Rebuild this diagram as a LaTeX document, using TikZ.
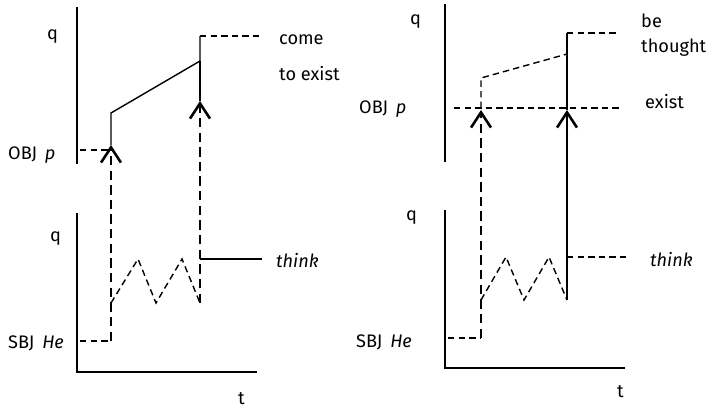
\documentclass[tikz,border=0pt]{standalone}
\usepackage{fontspec}
\setmainfont{Fira Sans}
\usetikzlibrary{arrows.meta}
\tikzset{
  axis/.style={line width=1.6pt},
  trace/.style={line width=1.2pt},
  tracedash/.style={line width=1.2pt, dash pattern=on 5.5pt off 3.5pt},
  cause/.style={line width=2.4pt, dash pattern=on 8pt off 4.5pt, -{Straight Barb[length=13pt,width=17pt,line width=2.2pt]}},
  causefull/.style={line width=2pt, -{Straight Barb[length=13pt,width=17pt,line width=2.2pt]}},
  lbl/.style={anchor=base west, inner sep=0pt, font=\fontsize{15.5}{17}\selectfont}
}

\begin{document}
\begin{tikzpicture}[x=0.3mm,y=-0.3mm]
  \useasboundingbox (0,0) rectangle (716,410);

  % left panel: come to exist
  \coordinate (lTop) at (77,7);
  \coordinate (lMid) at (77,164);
  \coordinate (lBot) at (77,213);
  \coordinate (lOrig) at (77,372);
  \coordinate (lEnd) at (257,372);
  \draw[axis] (lTop) -- (lMid);
  \draw[axis] (lBot) -- (lOrig) -- (lEnd);

  \node[lbl] (lq1) at (47,39) {q};
  \node[lbl] (lq2) at (50,241) {q};
  \node[lbl] (lt) at (238,404) {t};
  \node[lbl] (lobj) at (8,159) {OBJ\, \textit{p}};
  \node[lbl] (lsbj) at (8,348) {SBJ\, \textit{He}};
  \node[lbl] (lcome) at (279,44) {come};
  \node[lbl] (lexist) at (279,80) {to exist};
  \node[lbl] (lthink) at (276,267) {\textit{think}};

  \coordinate (lp0) at (80,150);
  \coordinate (lA) at (111,145);
  \coordinate (lA1) at (111,113);
  \coordinate (lB) at (200,101);
  \coordinate (lB1) at (200,61);
  \coordinate (lB2) at (200,36);
  \coordinate (lB3) at (262,36);
  \coordinate (lh0) at (80,341);
  \coordinate (lh1) at (111,341);
  \coordinate (lz0) at (111,303);
  \coordinate (lz1) at (138,259);
  \coordinate (lz2) at (156,303);
  \coordinate (lz3) at (182,259);
  \coordinate (lz4) at (200,303);
  \coordinate (lk0) at (200,259);
  \coordinate (lk1) at (262,259);

  \draw[tracedash] (lp0) -- (lA |- lp0);
  \draw[trace] (lA) -- (lA1) -- (lB1) -- (lB2);
  \draw[trace] (lB) -- (lB1);
  \draw[tracedash] (lB2) -- (lB3);
  \draw[tracedash] (lh0) -- (lh1);
  \draw[cause] (lh1) -- (lA);
  \draw[cause] (lz4) -- (lB);
  \draw[tracedash] (lz0) -- (lz1) -- (lz2) -- (lz3) -- (lz4);
  \draw[trace] (lk0) -- (lk1);

  % right panel: be thought
  \coordinate (rTop) at (445,4);
  \coordinate (rMid) at (445,162);
  \coordinate (rBot) at (445,210);
  \coordinate (rOrig) at (445,368);
  \coordinate (rEnd) at (625,368);
  \draw[axis] (rTop) -- (rMid);
  \draw[axis] (rBot) -- (rOrig) -- (rEnd);

  \node[lbl] (rq1) at (410,24) {q};
  \node[lbl] (rq2) at (406,220) {q};
  \node[lbl] (rt) at (617,397) {t};
  \node[lbl] (robj) at (359,113) {OBJ\, \textit{p}};
  \node[lbl] (rsbj) at (356,347) {SBJ\, \textit{He}};
  \node[lbl] (rbe) at (641,27) {be};
  \node[lbl] (rthought) at (641,52) {thought};
  \node[lbl] (rexist) at (645,108) {exist};
  \node[lbl] (rthink) at (650,266) {\textit{think}};

  \coordinate (rp0) at (454,108);
  \coordinate (rp1) at (621,108);
  \coordinate (rA) at (481,110);
  \coordinate (rA1) at (481,78);
  \coordinate (rB) at (567,110);
  \coordinate (rB1) at (567,54);
  \coordinate (rB2) at (567,33);
  \coordinate (rB3) at (618,33);
  \coordinate (rh0) at (448,338);
  \coordinate (rh1) at (481,338);
  \coordinate (rz0) at (481,300);
  \coordinate (rz1) at (506,257);
  \coordinate (rz2) at (524,300);
  \coordinate (rz3) at (549,257);
  \coordinate (rz4) at (567,300);
  \coordinate (rk1) at (629,257);

  \draw[tracedash] (rp0) -- (rp1);
  \draw[tracedash] (rA |- rp0) -- (rA1) -- (rB1);
  \draw[trace] (rB) -- (rB2);
  \draw[tracedash] (rB2) -- (rB3);
  \draw[tracedash] (rh0) -- (rh1);
  \draw[cause] (rh1) -- (rA);
  \draw[causefull] (rz4) -- (rB);
  \draw[tracedash] (rz0) -- (rz1) -- (rz2) -- (rz3) -- (rz4);
  \draw[tracedash] (rz4 |- rz1) -- (rk1);
\end{tikzpicture}
\end{document}
